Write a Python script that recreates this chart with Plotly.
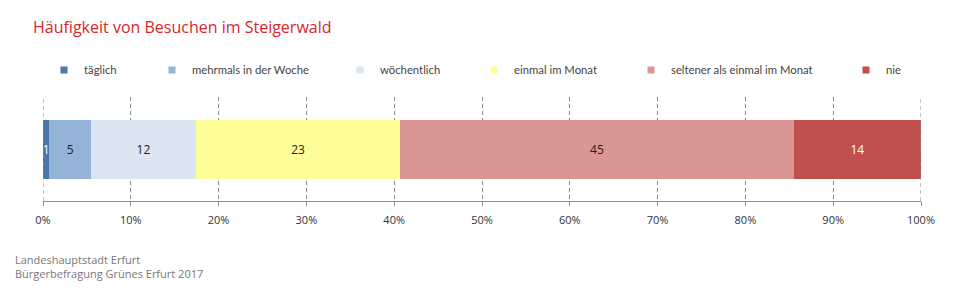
import plotly.graph_objects as go

categories = ["täglich", "mehrmals in der Woche", "wöchentlich",
              "einmal im Monat", "seltener als einmal im Monat", "nie"]
values = [0.7, 4.8, 11.9, 23.3, 44.8, 14.5]
labels = [str(round(v)) for v in values]
colors = ["#4a76ab", "#95b3d7", "#dce6f1", "#ffff99", "#da9694", "#c0504d"]
text_colors = ["#ffffff", "#222222", "#222222", "#222222", "#222222", "#ffffff"]
tick_vals = [0, 10, 20, 30, 40, 50, 60, 70, 80, 90, 100]
tick_text = [f"{t}%" for t in tick_vals]
legend_text_x = [82, 190, 378, 512, 669, 884]  # pixel start of legend labels

W, H = 960, 293
ML, MR, MT, MB = 43, 39, 95, 92
PH = H - MT - MB
FONT = "Lato"
GRID = "#8c8c8c"

fig = go.Figure()
for i, (cat, v) in enumerate(zip(categories, values)):
    fig.add_trace(go.Bar(
        x=[v], y=[0], orientation="h", name=cat,
        marker=dict(color=colors[i], line=dict(width=0)),
        text=[labels[i]], textposition="inside", insidetextanchor="middle",
        textangle=0, constraintext="none",
        textfont=dict(family="Open Sans", size=12, color=text_colors[i]),
        showlegend=False, width=1, hoverinfo="skip",
    ))
    lg = "legend" if i == 0 else f"legend{i + 1}"
    fig.add_trace(go.Scatter(
        x=[None], y=[None], mode="markers", name=cat,
        marker=dict(symbol="square", size=7, color=colors[i]),
        legend=lg, showlegend=True,
    ))

legend_common = dict(
    orientation="h", xref="container", yref="container",
    xanchor="left", yanchor="middle", y=1 - 70 / H,
    font=dict(family=FONT, size=11.3, color="#444444"),
    bgcolor="rgba(0,0,0,0)", borderwidth=0,
    itemwidth=30,
)
legends = {}
for i, tx in enumerate(legend_text_x):
    key = "legend" if i == 0 else f"legend{i + 1}"
    legends[key] = dict(legend_common, x=(tx - 38) / W)

# dashed gridlines at the range edges (plotly omits them there)
edge_lines = [dict(type="line", xref="x", yref="paper", x0=t, x1=t, y0=0, y1=1,
                   line=dict(color=GRID, width=1, dash="4px,3px"), layer="above")
              for t in (tick_vals[0], tick_vals[-1])]

fig.update_layout(
    width=W, height=H,
    barmode="stack",
    plot_bgcolor="white", paper_bgcolor="white",
    margin=dict(l=ML, r=MR, t=MT, b=MB),
    title=dict(text="Häufigkeit von Besuchen im Steigerwald",
               xref="container", yref="container",
               x=33 / W, y=1 - 27 / H, xanchor="left", yanchor="middle",
               font=dict(family="Open Sans", size=16, color="#d7262c")),
    xaxis=dict(range=[0, 100], tickvals=tick_vals, ticktext=tick_text,
               showgrid=True, gridcolor=GRID, griddash="4px,3px", gridwidth=1,
               showline=True, linecolor=GRID, linewidth=1,
               ticks="outside", ticklen=4, tickcolor=GRID,
               ticklabelstandoff=5,
               zeroline=False, fixedrange=True,
               tickfont=dict(family="Open Sans", size=11, color="#333333")),
    yaxis=dict(range=[-0.867, 0.9], visible=False, fixedrange=True),
    uniformtext=dict(minsize=12, mode="show"),
    shapes=edge_lines,
    annotations=[
        dict(text="Landeshauptstadt Erfurt<br>Bürgerbefragung Grünes Erfurt 2017",
             xref="paper", yref="paper", x=(13 - ML) / (W - ML - MR),
             y=(H - MB - 267) / PH, xanchor="left", yanchor="middle", align="left",
             showarrow=False,
             font=dict(family="Open Sans", size=11, color="#777777")),
    ],
    **legends,
)

fig.write_html("out.html")
